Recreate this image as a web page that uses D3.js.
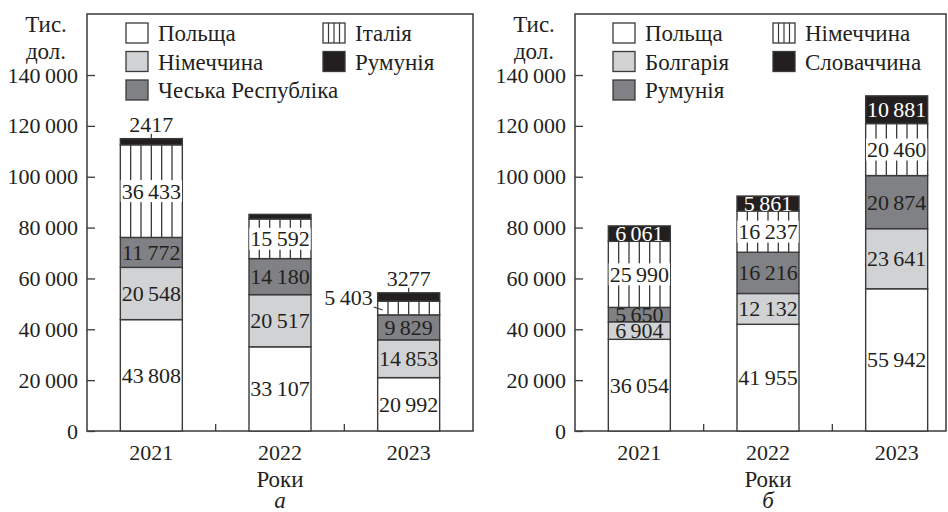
<!DOCTYPE html>
<html>
<head>
<meta charset="utf-8">
<script src="https://cdn.jsdelivr.net/npm/d3@7"></script>
</head>
<body style="margin:0; background:#fff">
<div id="chart"></div>
<script>
const years = ['2021', '2022', '2023'];
const yTicks = [0, 20000, 40000, 60000, 80000, 100000, 120000, 140000];

// panel a
const leftSeries = ['Польща', 'Німеччина', 'Чеська Республіка', 'Італія', 'Румунія'];
const leftPoland = [43808, 33107, 20992];
const leftGermany = [20548, 20517, 14853];
const leftCzech = [11772, 14180, 9829];
const leftItaly = [36433, 15592, 5403];
const leftRomania = [2417, 1800, 3277];

// panel b
const rightSeries = ['Польща', 'Болгарія', 'Румунія', 'Німеччина', 'Словаччина'];
const rightPoland = [36054, 41955, 55942];
const rightBulgaria = [6904, 12132, 23641];
const rightRomania = [5650, 16216, 20874];
const rightGermany = [25990, 16237, 20460];
const rightSlovakia = [6061, 5861, 10881];

const fills = ['#ffffff', '#d1d2d4', '#808184', 'hatch', '#231f20'];
const ink = '#3a3a3a';
const font = 'Liberation Serif';
const fs = 22;

const width = 948, height = 512;
const svg = d3.select('#chart').append('svg')
    .attr('width', width)
    .attr('height', height);

function fmt(v) {
    if (v < 5000) return String(v);
    return d3.format(',')(v).replace(/,/g, '\u2009');
}

function label(g, x, y, txt, size) {
    return g.append('text')
        .attr('x', x).attr('y', y)
        .attr('font-family', font)
        .attr('font-size', size || fs)
        .attr('fill', '#231f20')
        .text(txt);
}

function drawPanel(cfg) {
    const top = 14, base = 431;
    const x = d3.scalePoint().domain(years).range([cfg.x0, cfg.x1]).padding(0.5);
    const step = x.step();
    const bw = 62;
    const y = d3.scaleLinear().domain([0, 164000]).range([base, top]);
    const g = svg.append('g');

    // frame
    g.append('rect')
        .attr('x', cfg.x0).attr('y', top)
        .attr('width', cfg.frameRight - cfg.x0).attr('height', base - top)
        .attr('fill', 'none').attr('stroke', ink).attr('stroke-width', 1.5);

    // y axis
    const ax = g.append('g')
        .attr('transform', 'translate(' + cfg.x0 + ',0)')
        .call(d3.axisLeft(y).tickValues(yTicks).tickSize(-8).tickPadding(9).tickFormat(fmt));
    ax.select('.domain').remove();
    ax.selectAll('.tick line').attr('stroke', ink).attr('stroke-width', 1.3);
    ax.selectAll('.tick text')
        .attr('font-family', font)
        .attr('font-size', fs)
        .attr('fill', '#231f20');

    // x ticks between categories
    g.selectAll('.xtick')
        .data(years.slice(1))
        .enter()
        .append('line')
        .attr('x1', d => x(d) - step / 2).attr('x2', d => x(d) - step / 2)
        .attr('y1', base).attr('y2', base - 7)
        .attr('stroke', ink).attr('stroke-width', 1.3);

    years.forEach(d => {
        label(g, x(d), 460, d).attr('text-anchor', 'middle');
    });

    label(g, x('2022'), 487, 'Роки', 23).attr('text-anchor', 'middle');
    label(g, x('2022'), 508, cfg.caption, 23)
        .attr('text-anchor', 'middle')
        .attr('font-style', 'italic');

    label(g, cfg.x0 - 41, 32, 'Тис.', 23).attr('text-anchor', 'middle');
    label(g, cfg.x0 - 41, 59, 'дол.', 23).attr('text-anchor', 'middle');

    // stacked bars
    const keys = cfg.series.map((s, i) => i);
    const rows = years.map((yr, j) => {
        const r = { year: yr };
        keys.forEach(k => { r[k] = cfg.values[k][j]; });
        return r;
    });
    const stacked = d3.stack().keys(keys)(rows);

    stacked.forEach(layer => {
        const k = layer.key;
        layer.forEach((seg, j) => {
            const yr = years[j];
            const bl = x(yr) - bw / 2;
            const y0 = y(seg[0]), y1 = y(seg[1]);
            g.append('rect')
                .attr('x', bl).attr('y', y1)
                .attr('width', bw).attr('height', y0 - y1)
                .attr('fill', fills[k] === 'hatch' ? '#fff' : fills[k])
                .attr('stroke', ink).attr('stroke-width', 1.4);
            if (fills[k] === 'hatch') {
                d3.range(1, 6).forEach(n => {
                    g.append('line')
                        .attr('x1', bl + bw * n / 6).attr('x2', bl + bw * n / 6)
                        .attr('y1', y1).attr('y2', y0)
                        .attr('stroke', ink).attr('stroke-width', 1.3);
                });
            }

            const v = seg.data[k];
            const callout = cfg.callouts.find(c => c.series === k && c.year === j);
            if (callout) {
                if (callout.pos === 'none') return;
                if (callout.pos === 'top') {
                    g.append('line')
                        .attr('x1', x(yr)).attr('x2', x(yr))
                        .attr('y1', y1 - 5).attr('y2', y1)
                        .attr('stroke', ink).attr('stroke-width', 1.2);
                    label(g, x(yr), y1 - 6.5, fmt(v)).attr('text-anchor', 'middle');
                } else {
                    const c = (y0 + y1) / 2;
                    g.append('line')
                        .attr('x1', bl - 4).attr('y1', c - 1)
                        .attr('x2', bl + 5).attr('y2', c + 2)
                        .attr('stroke', ink).attr('stroke-width', 1.2);
                    label(g, bl - 5, c - 3, fmt(v)).attr('text-anchor', 'end');
                }
                return;
            }
            const cy = (y0 + y1) / 2;
            if (fills[k] === 'hatch') {
                const tmp = label(g, 0, 0, fmt(v));
                const tw = tmp.node().getComputedTextLength();
                tmp.remove();
                g.append('rect')
                    .attr('x', x(yr) - tw / 2 - 1).attr('y', cy - 11)
                    .attr('width', tw + 2).attr('height', 22)
                    .attr('fill', '#fff');
            }
            label(g, x(yr), cy + 7.5, fmt(v))
                .attr('text-anchor', 'middle')
                .attr('fill', k === 4 ? '#fff' : '#231f20');
        });
    });

    // legend
    cfg.series.forEach((name, i) => {
        const col = i < 3 ? 0 : 1;
        const row = i < 3 ? i : i - 3;
        const lx = cfg.x0 + cfg.legendX[col];
        const ly = 23 + row * 28.5;
        g.append('rect')
            .attr('x', lx).attr('y', ly)
            .attr('width', 22).attr('height', 20)
            .attr('fill', fills[i] === 'hatch' ? '#fff' : fills[i])
            .attr('stroke', ink).attr('stroke-width', 1.3);
        if (fills[i] === 'hatch') {
            d3.range(1, 4).forEach(n => {
                g.append('line')
                    .attr('x1', lx + 22 * n / 4).attr('x2', lx + 22 * n / 4)
                    .attr('y1', ly).attr('y2', ly + 20)
                    .attr('stroke', ink).attr('stroke-width', 1.2);
            });
        }
        label(g, lx + 32, ly + 18, name, 23);
    });
}

drawPanel({
    x0: 87, x1: 473, frameRight: 473,
    series: leftSeries,
    values: [leftPoland, leftGermany, leftCzech, leftItaly, leftRomania],
    callouts: [
        { series: 4, year: 0, pos: 'top' },
        { series: 4, year: 1, pos: 'none' },
        { series: 4, year: 2, pos: 'top' },
        { series: 3, year: 2, pos: 'left' }
    ],
    legendX: [39, 236],
    caption: 'а'
});

drawPanel({
    x0: 575, x1: 961, frameRight: 946,
    series: rightSeries,
    values: [rightPoland, rightBulgaria, rightRomania, rightGermany, rightSlovakia],
    callouts: [],
    legendX: [38, 198],
    caption: 'б'
});
</script>
</body>
</html>
